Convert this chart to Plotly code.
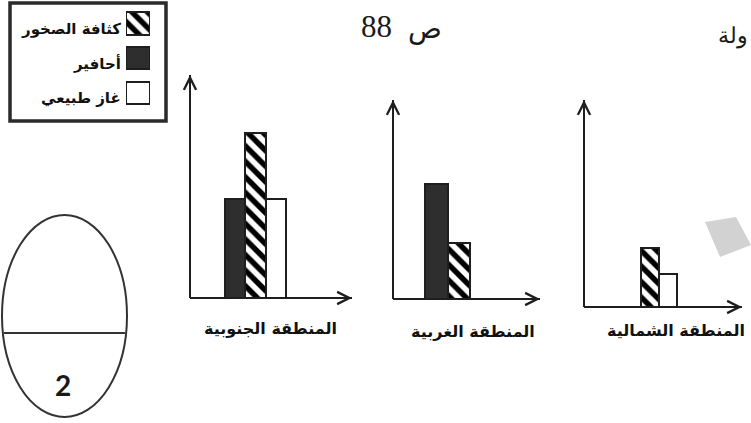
import plotly.graph_objects as go

# ---------------- data ----------------
regions = ["المنطقة الجنوبية", "المنطقة الغربية", "المنطقة الشمالية"]
series_names = ["أحافير", "كثافة الصخور", "غاز طبيعي"]
fossils = [3.0, 3.5, 0.0]          # dark bars
rock_density = [5.0, 1.7, 1.8]     # hatched bars
natural_gas = [3.0, 0.0, 1.0]      # white bars
legend_order = ["كثافة الصخور", "أحافير", "غاز طبيعي"]
page_word = "ص"
page_number = "88"
corner_text = "ولة"
badge_number = "2"

# ---------------- layout helpers (pixels) ----------------
W, H = 751, 423
def fx(p): return p / W
def fy(p): return 1 - p / H

AXIS_X = [190, 393, 584]
TIP_X = [352, 540, 742]
BASE_Y = [298, 299, 307]
TOP_Y = [75, 100, 100]
SLOT_LEFT = [225, 425, 623]
SLOT_W = [20.3, 22.5, 18.0]
PX_PER_UNIT = 33.0
LABEL_POS = [(270, 328), (473, 331), (676, 330)]

ARABIC = "DejaVu Sans"
INK = "#1e1e1e"

styles = {
    "أحافير": dict(color="#2e2e2e"),
    "كثافة الصخور": dict(color="white",
                         pattern=dict(shape="\\", fgcolor="#000000", bgcolor="white",
                                      fgopacity=1, size=11, solidity=0.5)),
    "غاز طبيعي": dict(color="white"),
}
values = {"أحافير": fossils, "كثافة الصخور": rock_density, "غاز طبيعي": natural_gas}

fig = go.Figure()
layout_axes = {}
shapes = []
annotations = []

def text_at(x, y, text, font, xanchor="center"):
    annotations.append(dict(xref="paper", yref="paper", x=fx(x), y=fy(y),
                            xanchor=xanchor, yanchor="middle", text=text,
                            showarrow=False, font=font))

for r, region in enumerate(regions):
    idx = "" if r == 0 else str(r + 1)
    xa, ya = "x" + idx, "y" + idx
    for k, name in enumerate(series_names):
        v = values[name][r]
        if v <= 0:
            continue
        fig.add_trace(go.Bar(
            x=[k], y=[v], width=1, xaxis=xa, yaxis=ya, name=name,
            showlegend=False,
            marker=dict(line=dict(color=INK, width=2), **styles[name]),
        ))
    u = lambda p: -0.5 + (p - SLOT_LEFT[r]) / SLOT_W[r]
    common = dict(showgrid=False, zeroline=False, showticklabels=False,
                  ticks="", showline=False, fixedrange=True)
    layout_axes["xaxis" + idx] = dict(domain=[fx(AXIS_X[r]), fx(TIP_X[r])],
                                      range=[u(AXIS_X[r]), u(TIP_X[r])],
                                      anchor=ya, **common)
    layout_axes["yaxis" + idx] = dict(domain=[fy(BASE_Y[r]), fy(TOP_Y[r])],
                                      range=[0, (BASE_Y[r] - TOP_Y[r]) / PX_PER_UNIT],
                                      anchor=xa, **common)
    # axis lines
    shapes.append(dict(type="line", xref=xa + " domain", yref=ya + " domain",
                       x0=0, y0=0, x1=1, y1=0, line=dict(color=INK, width=2)))
    shapes.append(dict(type="line", xref=xa + " domain", yref=ya + " domain",
                       x0=0, y0=0, x1=0, y1=1, line=dict(color=INK, width=2)))
    # arrow heads
    annotations.append(dict(xref=xa + " domain", yref=ya + " domain", x=1, y=0,
                            ax=-25, ay=0, text="", showarrow=True, arrowhead=5,
                            arrowsize=1.2, arrowwidth=2, arrowcolor=INK))
    annotations.append(dict(xref=xa + " domain", yref=ya + " domain", x=0, y=1,
                            ax=0, ay=25, text="", showarrow=True, arrowhead=5,
                            arrowsize=1.2, arrowwidth=2, arrowcolor=INK))
    # region label
    lx, ly = LABEL_POS[r]
    text_at(lx, ly, "<b>%s</b>" % region,
            dict(family=ARABIC, size=16, color="#111"))

# ---------------- manual legend (swatches right of text) ----------------
leg_y = list(range(len(legend_order)))
for i, name in enumerate(legend_order):
    fig.add_trace(go.Bar(
        x=[1], y=[leg_y[i]], orientation="h", width=0.64,
        xaxis="x4", yaxis="y4", showlegend=False, name=name,
        marker=dict(line=dict(color=INK, width=2), **styles[name]),
    ))
    text_at(123, 29 + i * 34.5, "<b>%s</b>" % name,
            dict(family=ARABIC, size=15, color="#111"), xanchor="right")
layout_axes["xaxis4"] = dict(domain=[fx(126), fx(150)], range=[0, 1], visible=False,
                             anchor="y4", fixedrange=True)
layout_axes["yaxis4"] = dict(domain=[fy(110.5), fy(6)], range=[2.5, -0.5],
                             visible=False, anchor="x4", fixedrange=True)
shapes.append(dict(type="rect", xref="paper", yref="paper",
                   x0=fx(10), x1=fx(166), y0=fy(121), y1=fy(3),
                   line=dict(color="#2a2a2a", width=3.5)))

# ---------------- decorations ----------------
shapes.append(dict(type="circle", xref="paper", yref="paper",
                   x0=fx(2), x1=fx(127), y0=fy(417), y1=fy(215),
                   line=dict(color="#333", width=2)))
shapes.append(dict(type="line", xref="paper", yref="paper",
                   x0=fx(4), x1=fx(125), y0=fy(333), y1=fy(333),
                   line=dict(color="#333", width=2)))
pts = [(705, 222), (736, 217), (751, 245), (720, 257)]
path = "M " + " L ".join("%.5f,%.5f" % (fx(a), fy(b)) for a, b in pts) + " Z"
shapes.append(dict(type="path", xref="paper", yref="paper", path=path,
                   fillcolor="#d2d2d2", line=dict(width=0), layer="below"))

text_at(63, 385, "<b>%s</b>" % badge_number,
        dict(family="Lato", size=28, color="#1a1a1a"))
text_at(376, 27, page_number,
        dict(family="Liberation Serif", size=31, color="#1a1a1a"))
text_at(425, 29, page_word,
        dict(family="DejaVu Sans", size=28, color="#1a1a1a"))
text_at(750, 36, corner_text,
        dict(family="DejaVu Serif, serif", size=22, color="#1a1a1a"), xanchor="right")

fig.update_layout(
    width=W, height=H, margin=dict(l=0, r=0, t=0, b=0),
    paper_bgcolor="white", plot_bgcolor="rgba(0,0,0,0)",
    barmode="overlay", bargap=0, showlegend=False,
    shapes=shapes, annotations=annotations, **layout_axes,
)
fig.write_html("out.html", config={"displayModeBar": False},
               post_script="document.body.style.margin='0px';document.body.style.overflow='hidden';")
